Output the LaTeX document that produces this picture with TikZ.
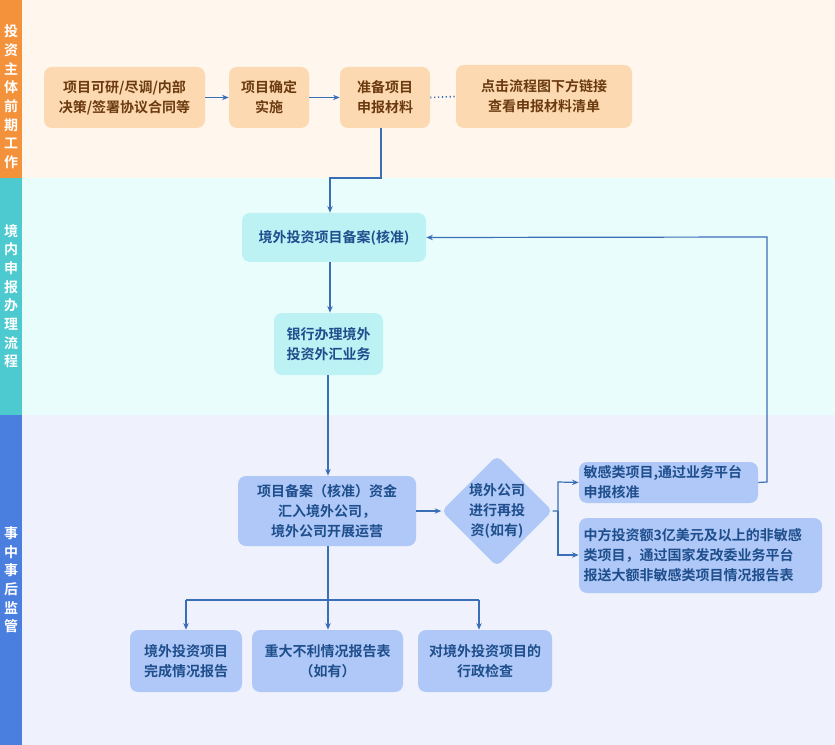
\documentclass[tikz,border=0pt]{standalone}
\usepackage{fontspec}
\setmainfont{Noto Sans CJK SC}[BoldFont={Noto Sans CJK SC Bold}]
\usetikzlibrary{arrows.meta,shapes.geometric}
\definecolor{org}{HTML}{F4913B}\definecolor{orgbg}{HTML}{FFF6EE}
\definecolor{cyn}{HTML}{4DC9D0}\definecolor{cynbg}{HTML}{E9FDFD}
\definecolor{blu}{HTML}{4A7FE0}\definecolor{blubg}{HTML}{EFF2FD}
\definecolor{obox}{HTML}{FCD9B0}\definecolor{otxt}{HTML}{6B3A10}
\definecolor{cbox}{HTML}{BDF2F5}\definecolor{bbox}{HTML}{AFC8F7}
\definecolor{btxt}{HTML}{1E4E8C}\definecolor{ln}{HTML}{3A6FB5}
\tikzset{
 ob/.style={fill=obox,rounded corners=6pt,text=otxt,font=\bfseries\fontsize{10.5}{15}\selectfont,align=center,inner sep=0},
 cb/.style={fill=cbox,rounded corners=6pt,text=btxt,font=\bfseries\fontsize{10.5}{15}\selectfont,align=center,inner sep=0},
 bb/.style={fill=bbox,rounded corners=6pt,text=btxt,font=\bfseries\fontsize{10.5}{15}\selectfont,align=center,inner sep=0},
 ar/.style={draw=ln,line width=0.9pt,-{Stealth[length=5pt,width=4pt]}},
 ln/.style={draw=ln,line width=0.9pt},
 side/.style={text=white,font=\bfseries\fontsize{10.5}{14}\selectfont,align=center}
}
\newcommand{\bx}[6]{\node[#1,minimum width=#4*0.75pt-0.75pt*#2,minimum height=#5*0.75pt-0.75pt*#3,text width=#4*0.75pt-0.75pt*#2-8pt] (#6) at ({(#2+#4)/2},{(#3+#5)/2})}
\begin{document}
\begin{tikzpicture}[x=0.75pt,y=-0.75pt]
\useasboundingbox (0,0) rectangle (835,745);
\fill[orgbg] (0,0) rectangle (835,178);
\fill[cynbg] (0,178) rectangle (835,415);
\fill[blubg] (0,415) rectangle (835,745);
\fill[org] (0,0) rectangle (22,178);
\fill[cyn] (0,178) rectangle (22,415);
\fill[blu] (0,415) rectangle (22,745);
\node[side] (s1) at (11,97) {投\\资\\主\\体\\前\\期\\工\\作};
\node[side] (s2) at (11,296) {境\\内\\申\\报\\办\\理\\流\\程};
\node[side] (s3) at (11,580) {事\\中\\事\\后\\监\\管};
\bx{ob}{44}{67}{205}{128}{A} {项目可研/尽调/内部\\决策/签署协议合同等};
\bx{ob}{229}{67}{309}{128}{B} {项目确定\\实施};
\bx{ob}{340}{67}{430}{128}{C} {准备项目\\申报材料};
\bx{ob}{456}{65}{632}{128}{D} {点击流程图下方链接\\查看申报材料清单};
\bx{cb}{242}{213}{426}{262}{E} {境外投资项目备案(核准)};
\bx{cb}{274}{313}{383}{375}{F} {银行办理境外\\投资外汇业务};
\bx{bb}{238}{476}{416}{546}{G} {项目备案（核准）资金\\汇入境外公司，\\境外公司开展运营};
\node[diamond,fill=bbox,rounded corners=4pt,minimum width=108*0.75pt,minimum height=106*0.75pt,inner sep=0,text=btxt,font=\bfseries\fontsize{10.5}{15}\selectfont,align=center] (H) at (497,511) {境外公司\\进行再投\\资(如有)};
\node[bb,minimum width=179*0.75pt,minimum height=41*0.75pt,text width=170*0.75pt,align=left] (I) at (668.5,482.5) {敏感类项目,通过业务平台\\申报核准};
\node[bb,minimum width=243*0.75pt,minimum height=75*0.75pt,text width=234*0.75pt,align=left] (J) at (700.5,555.5) {中方投资额3亿美元及以上的非敏感\\类项目，通过国家发改委业务平台\\报送大额非敏感类项目情况报告表};
\bx{bb}{130}{630}{242}{692}{K} {境外投资项目\\完成情况报告};
\bx{bb}{252}{630}{403}{692}{L} {重大不利情况报告表\\（如有）};
\bx{bb}{418}{630}{552}{692}{M} {对境外投资项目的\\行政检查};
\draw[ar] (A.east) -- (B.west);
\draw[ar] (B.east) -- (C.west);
\draw[ln,dotted,line width=1.2pt] (C.east) -- (D.west);
\draw[ar] (C.south -| 381,0) -- (381,178) -- (330,178) -- (E.north -| 330,0);
\draw[ar] (E.south -| 330,0) -- (F.north -| 330,0);
\draw[ar] (F.south -| 328,0) -- (G.north -| 328,0);
\draw[ar] (G.east) -- (H.west);
\draw[ar] (H.east) -- (558,511) -- (558,482) -- (I.west);
\draw[ar] (558,511) -- (558,555) -- (J.west |- 0,555);
\draw[ar] (I.east) -- (767,482) -- (767,237) -- (E.east);
\coordinate (br) at (328,600);
\draw[ln] (G.south -| 328,0) -- (br);
\draw[ln] (186,600) -- (479,600);
\draw[ar] (186,600) -- (K.north -| 186,0);
\draw[ar] (br) -- (L.north -| 328,0);
\draw[ar] (479,600) -- (M.north -| 479,0);
\end{tikzpicture}
\end{document}
